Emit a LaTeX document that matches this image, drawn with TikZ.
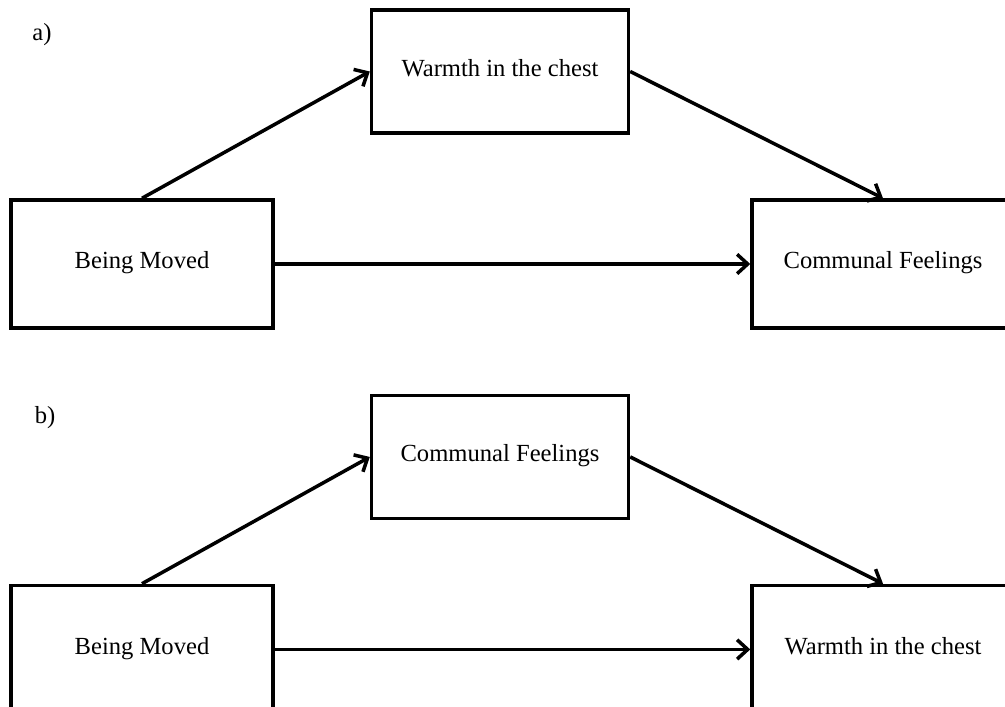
\documentclass[tikz,border=0pt]{standalone}
\usepackage{fontspec}
\setmainfont{Liberation Serif}
\usetikzlibrary{positioning,arrows.meta}

\begin{document}
\begin{tikzpicture}[x=0.02cm,y=-0.02cm,line width=2pt,>={Straight Barb[length=6pt,width=11pt]},
	every node/.style={font=\fontsize{14}{17}\selectfont},
	box/.style={shape=rectangle,draw,text height=1.6ex,text depth=.45ex,minimum width=5.24cm,minimum height=2.56cm},
	mid/.style={box,minimum width=5.14cm,minimum height=2.46cm},]
	% frame of the figure
	\useasboundingbox (0,0) rectangle (1005,707);
	\clip (0,0) rectangle (1005,707);

	% panel a
	\node (la) at (42,35) {a)};
	\node (BMa) [box] at (142,264) {Being Moved};
	\node (Wa) [mid] at (500,71.5) {Warmth in the chest};
	\node (CFa) [box] at (883,264) {Communal Feelings};

	% panel b
	\node (lb) at (45,418) {b)};
	\node (BMb) [box, below = 5.08cm of BMa] {Being Moved};
	\node (CFb) [mid, below = 5.18cm of Wa] {Communal Feelings};
	\node (Wb) [box, below = 5.08cm of CFa] {Warmth in the chest};

	% paths
	\draw[->] (BMa.north) to (Wa.west);
	\draw[->] (Wa.east) to (CFa.north);
	\draw[->] (BMa) to (CFa);
	\draw[->] (BMb.north) to (CFb.west);
	\draw[->] (CFb.east) to (Wb.north);
	\draw[->] (BMb) to (Wb);
\end{tikzpicture}
\end{document}
